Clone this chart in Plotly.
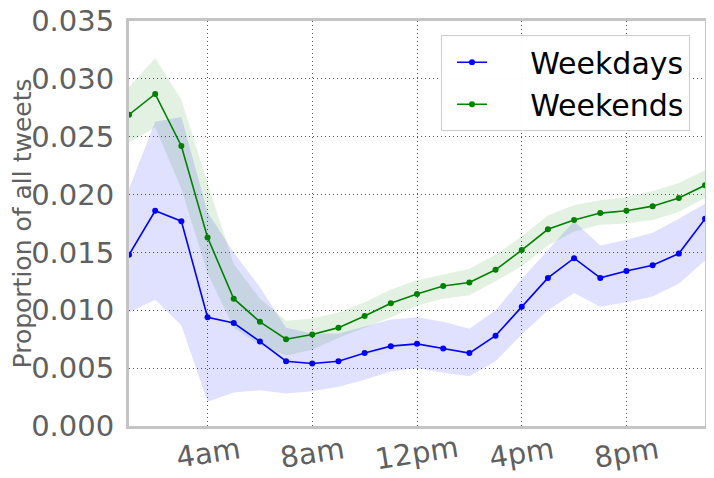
import plotly.graph_objects as go

# ── Data ──────────────────────────────────────────────────────────────────────
hours = list(range(1, 24))
tick_vals = [4, 8, 12, 16, 20]
tick_text = ["4am", "8am", "12pm", "4pm", "8pm"]

weekday_mean = [0.0148, 0.0186, 0.0177, 0.0094, 0.0089, 0.0073, 0.0056, 0.0054,
                0.0056, 0.0063, 0.0069, 0.0071, 0.0067, 0.0063, 0.0078, 0.0103,
                0.0128, 0.0145, 0.0128, 0.0134, 0.0139, 0.0149, 0.0179]
weekday_hi = [0.0205, 0.0263, 0.0267, 0.0185, 0.0150, 0.0120, 0.0085, 0.0080,
              0.0080, 0.0086, 0.0092, 0.0094, 0.0090, 0.0084, 0.0100, 0.0127,
              0.0152, 0.0177, 0.0156, 0.0161, 0.0167, 0.0179, 0.0192]
weekday_lo = [0.0098, 0.0109, 0.0087, 0.0021, 0.0029, 0.0031, 0.0028, 0.0030,
              0.0034, 0.0040, 0.0047, 0.0050, 0.0046, 0.0043, 0.0056, 0.0079,
              0.0100, 0.0115, 0.0103, 0.0107, 0.0112, 0.0123, 0.0143]

weekend_mean = [0.0269, 0.0287, 0.0242, 0.0163, 0.0110, 0.0090, 0.0075, 0.0079,
                0.0085, 0.0095, 0.0106, 0.0114, 0.0121, 0.0124, 0.0135, 0.0152,
                0.0170, 0.0178, 0.0184, 0.0186, 0.0190, 0.0197, 0.0208]
weekend_hi = [0.0293, 0.0318, 0.0282, 0.0210, 0.0140, 0.0110, 0.0091, 0.0093,
              0.0098, 0.0107, 0.0118, 0.0126, 0.0131, 0.0136, 0.0148, 0.0164,
              0.0182, 0.0191, 0.0195, 0.0198, 0.0203, 0.0210, 0.0221]
weekend_lo = [0.0245, 0.0258, 0.0205, 0.0132, 0.0085, 0.0070, 0.0061, 0.0066,
              0.0076, 0.0085, 0.0094, 0.0104, 0.0110, 0.0113, 0.0125, 0.0138,
              0.0156, 0.0168, 0.0174, 0.0175, 0.0178, 0.0185, 0.0197]

BLUE = "#0000ff"
GREEN = "#008000"
TEXT_GRAY = "#606060"
FONT = "DejaVu Sans"
PAD = "\u00a0" * 4  # extra gap between legend sample and label


def band(lo, hi, fill):
    return go.Scatter(
        x=hours + hours[::-1], y=hi + lo[::-1],
        fill="toself", fillcolor=fill, mode="none",
        showlegend=False, hoverinfo="skip",
    )


def line(y, name, color):
    return go.Scatter(
        x=hours, y=y, name=PAD + name, mode="lines+markers", legendgroup=name,
        line=dict(color=color, width=1.6),
        marker=dict(color=color, size=6),
    )


fig = go.Figure()
fig.add_trace(band(weekday_lo, weekday_hi, "rgba(0,0,255,0.12)"))
fig.add_trace(band(weekend_lo, weekend_hi, "rgba(0,128,0,0.11)"))
fig.add_trace(line(weekday_mean, "Weekdays", BLUE))
fig.add_trace(line(weekend_mean, "Weekends", GREEN))

grid = dict(showgrid=True, gridcolor="#555555", gridwidth=1, griddash="1px,3px",
            showline=True, mirror=True, linecolor="#c4c4c4", linewidth=3,
            zeroline=False, ticks="", automargin=False,
            ticklabeloverflow="allow",
            tickfont=dict(family=FONT, size=29, color=TEXT_GRAY))

fig.update_xaxes(range=[1, 23], tickvals=tick_vals, showticklabels=False, **grid)
fig.update_yaxes(range=[0, 0.035], dtick=0.005, tickformat=".3f",
                 ticklabelstandoff=6,
                 title=dict(text="Proportion of all tweets", standoff=10,
                            font=dict(family=FONT, size=25, color=TEXT_GRAY)),
                 **grid)

# rotated hour labels, centred under each tick
for val, txt in zip(tick_vals, tick_text):
    fig.add_annotation(x=val, y=0, xref="x", yref="paper", text=txt,
                       showarrow=False, textangle=-9, yanchor="middle",
                       yshift=-27,
                       font=dict(family=FONT, size=29, color=TEXT_GRAY))

# the page body adds an 8px margin, so the figure is sized to fit the window
fig.update_layout(
    width=706, height=470,
    margin=dict(l=121, r=9, t=13, b=52),
    plot_bgcolor="white", paper_bgcolor="white",
    font=dict(family=FONT),
    showlegend=True,
    legend=dict(
        x=0.974, y=0.965, xanchor="right", yanchor="top",
        bgcolor="rgba(255,255,255,0.95)", bordercolor="#cccccc", borderwidth=1,
        font=dict(family=FONT, size=30, color="black"),
        traceorder="grouped", tracegroupgap=0, indentation=10,
    ),
)

fig.write_html("out.html")
